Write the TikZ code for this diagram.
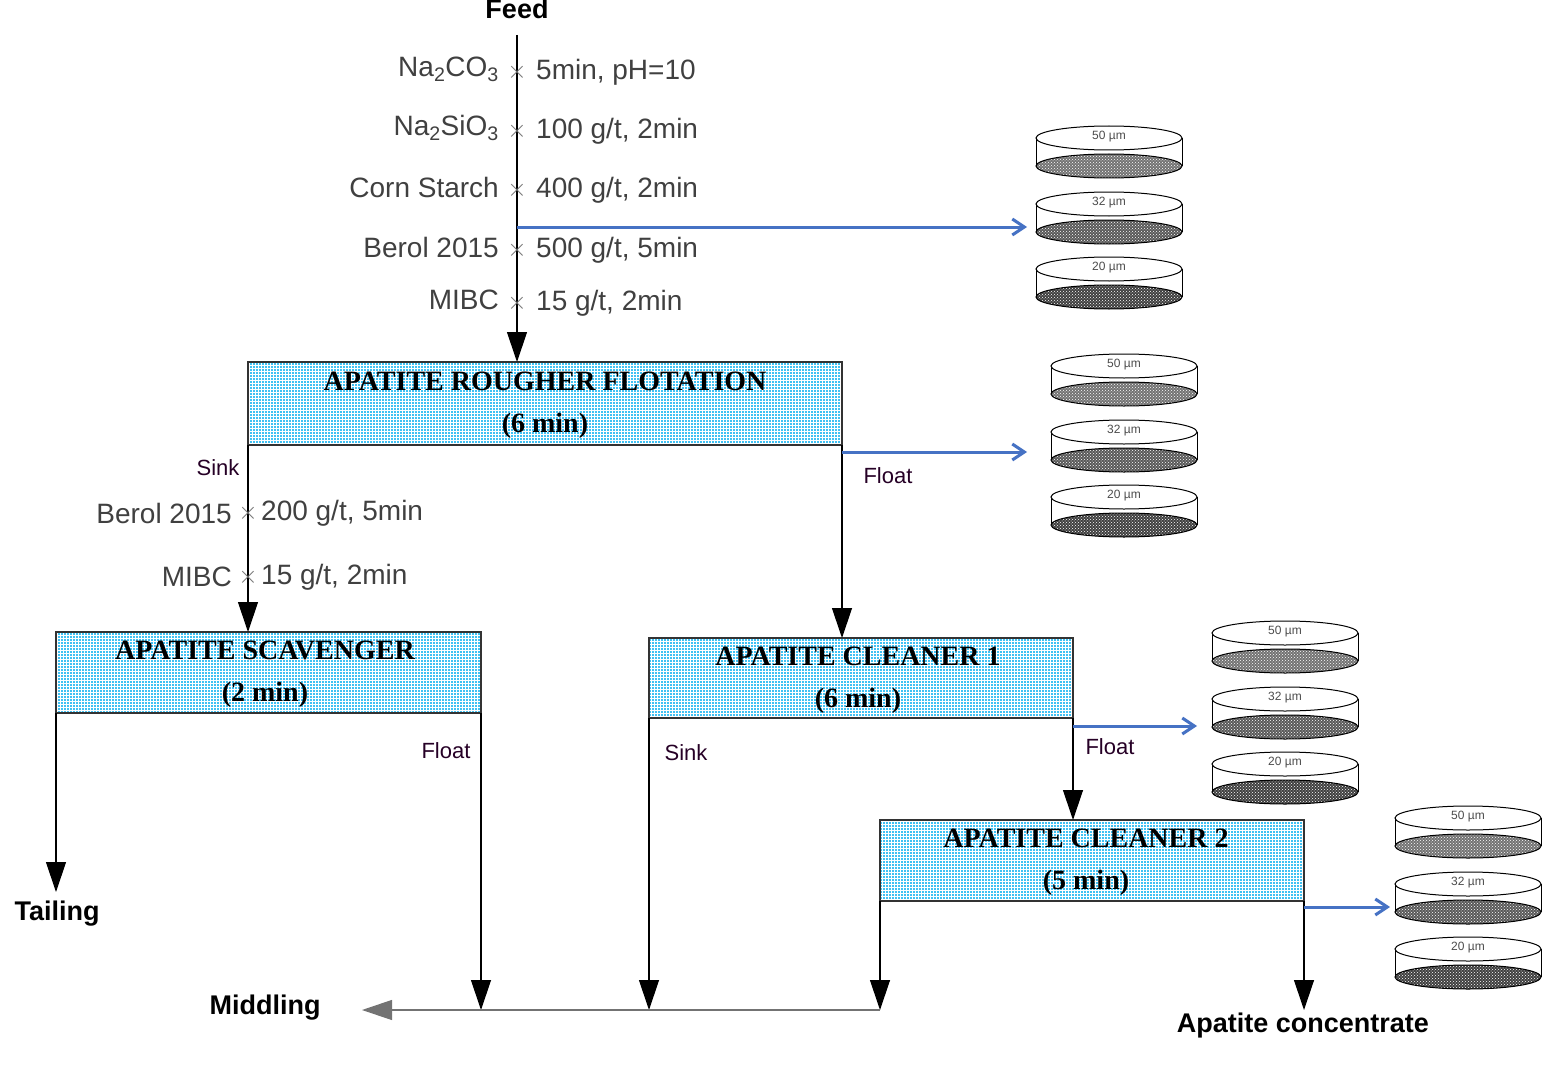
\documentclass[tikz,border=0pt]{standalone}
\usepackage{fontspec}
\setmainfont{Liberation Sans}
\newfontfamily\serifb{Liberation Serif}
\usetikzlibrary{patterns,arrows.meta}
\begin{document}
\begin{tikzpicture}[x=1pt,y=-1pt,
  box/.style={draw=black!80,line width=1.2pt,preaction={fill=cyan!75},pattern=grid,pattern color=white},
  btxt/.style={font=\serifb\bfseries\fontsize{28}{30}\selectfont,align=center},
  rtxt/.style={font=\fontsize{28}{30}\selectfont,text=black!75,inner sep=1pt},
  stxt/.style={font=\fontsize{22}{24}\selectfont,text=black!70!violet,inner sep=1pt},
  ttxt/.style={font=\bfseries\fontsize{27}{30}\selectfont,inner sep=1pt},
  flow/.style={line width=1.2pt,-{Triangle[length=30pt,width=20pt]}},
  blue/.style={draw={rgb,255:red,70;green,114;blue,196},line width=3pt,-{Straight Barb[length=12pt,width=16pt]}},
  cross/.style={font=\fontsize{34}{34}\selectfont,text=black!55,inner sep=0pt}]
\useasboundingbox (0,0) rectangle (1548,1070);
\newcommand\disc[4]{%
  \fill[white] (#1-73,#2) -- (#1-73,#2+28) arc[start angle=180,end angle=360,x radius=73,y radius=12] -- (#1+73,#2) -- cycle;
  \draw[line width=1pt] (#1-73,#2) -- (#1-73,#2+28) (#1+73,#2) -- (#1+73,#2+28);
  \draw[line width=1pt,fill=white] (#1,#2) ellipse[x radius=73,y radius=12];
  \draw[line width=1pt,preaction={fill=black!#4},pattern=crosshatch dots,pattern color=white] (#1,#2+28) ellipse[x radius=73,y radius=12];
  \node[font=\fontsize{12}{12}\selectfont,text=black!70] at (#1,#2-1) {#3};}
\newcommand\sieves[2]{\disc{#1}{#2}{50 µm}{55}\disc{#1}{#2+66}{32 µm}{65}\disc{#1}{#2+131}{20 µm}{75}}
\sieves{1109}{138}
\sieves{1124}{366}
\sieves{1285}{633}
\sieves{1468}{818}
% boxes
\draw[box] (248,362) rectangle (842,445);
\node[btxt] (rough) at (545,405) {APATITE ROUGHER FLOTATION\\[12pt](6 min)};
\draw[box] (56,632) rectangle (481,713);
\node[btxt] (scav) at (265,674) {APATITE SCAVENGER\\[12pt](2 min)};
\draw[box] (649,638) rectangle (1073,718);
\node[btxt] (cl1) at (858,680) {APATITE CLEANER 1\\[12pt](6 min)};
\draw[box] (880,820) rectangle (1304,901);
\node[btxt] (cl2) at (1086,862) {APATITE CLEANER 2\\[12pt](5 min)};
% feed
\node[ttxt] (feed) at (517,9) {Feed};
\coordinate (f0) at (517,35);
\coordinate (f1) at (517,362);
\draw[flow] (f0) -- (f1);
\foreach \y/\l/\r in {72/Na\textsubscript{2}CO\textsubscript{3}/{5min, pH=10},131/Na\textsubscript{2}SiO\textsubscript{3}/{100 g/t, 2min},190/Corn Starch/{400 g/t, 2min},250/Berol 2015/{500 g/t, 5min},303/MIBC/{15 g/t, 2min}}{
  \node[cross] at (517,\y) {$\times$};
  \node[rtxt,anchor=east] at (500,\y-3) {\l};
  \node[rtxt,anchor=west] at (535,\y) {\r};}
\coordinate (b0) at (517,227); \coordinate (b0e) at (1027,227);
\draw[blue] (b0) -- (b0e);
% rougher outputs
\coordinate (rs) at (248,445); \coordinate (ss) at (248,632);
\draw[flow] (rs) -- (ss);
\node[stxt] at (218,468) {Sink};
\foreach \y/\l/\r in {513/Berol 2015/{200 g/t, 5min},577/MIBC/{15 g/t, 2min}}{
  \node[cross] at (248,\y) {$\times$};
  \node[rtxt,anchor=east] at (233,\y) {\l};
  \node[rtxt,anchor=west] at (260,\y) {\r};}
\coordinate (rf) at (842,445); \coordinate (c1t) at (842,638);
\draw[flow] (rf) -- (c1t);
\coordinate (b1) at (842,452); \coordinate (b1e) at (1027,452);
\draw[blue] (b1) -- (b1e);
\node[stxt] at (888,476) {Float};
% scavenger
\coordinate (sl) at (56,713); \coordinate (tl) at (56,892);
\draw[flow] (sl) -- (tl);
\node[ttxt] (tail) at (57,914) {Tailing};
\coordinate (sr) at (481,713); \coordinate (m1) at (481,1010);
\draw[flow] (sr) -- (m1);
\node[stxt] at (446,751) {Float};
% cleaner 1
\coordinate (c1l) at (649,718); \coordinate (m2) at (649,1010);
\draw[flow] (c1l) -- (m2);
\node[stxt] at (686,753) {Sink};
\coordinate (c1r) at (1073,718); \coordinate (c2t) at (1073,820);
\draw[flow] (c1r) -- (c2t);
\node[stxt] at (1110,747) {Float};
\coordinate (b2) at (1073,726); \coordinate (b2e) at (1197,726);
\draw[blue] (b2) -- (b2e);
% cleaner 2
\coordinate (c2l) at (880,901); \coordinate (m3) at (880,1010);
\draw[flow] (c2l) -- (m3);
\coordinate (c2r) at (1304,901); \coordinate (ac) at (1304,1010);
\draw[flow] (c2r) -- (ac);
\node[ttxt] (conc) at (1303,1026) {Apatite concentrate};
\coordinate (b3) at (1304,907); \coordinate (b3e) at (1390,907);
\draw[blue] (b3) -- (b3e);
% middling
\node[ttxt] (mid) at (265,1008) {Middling};
\coordinate (me) at (362,1010);
\draw[line width=1.2pt,draw=black!55,-{Triangle[length=30pt,width=20pt]}] (m3) -- (me);
\end{tikzpicture}
\end{document}
